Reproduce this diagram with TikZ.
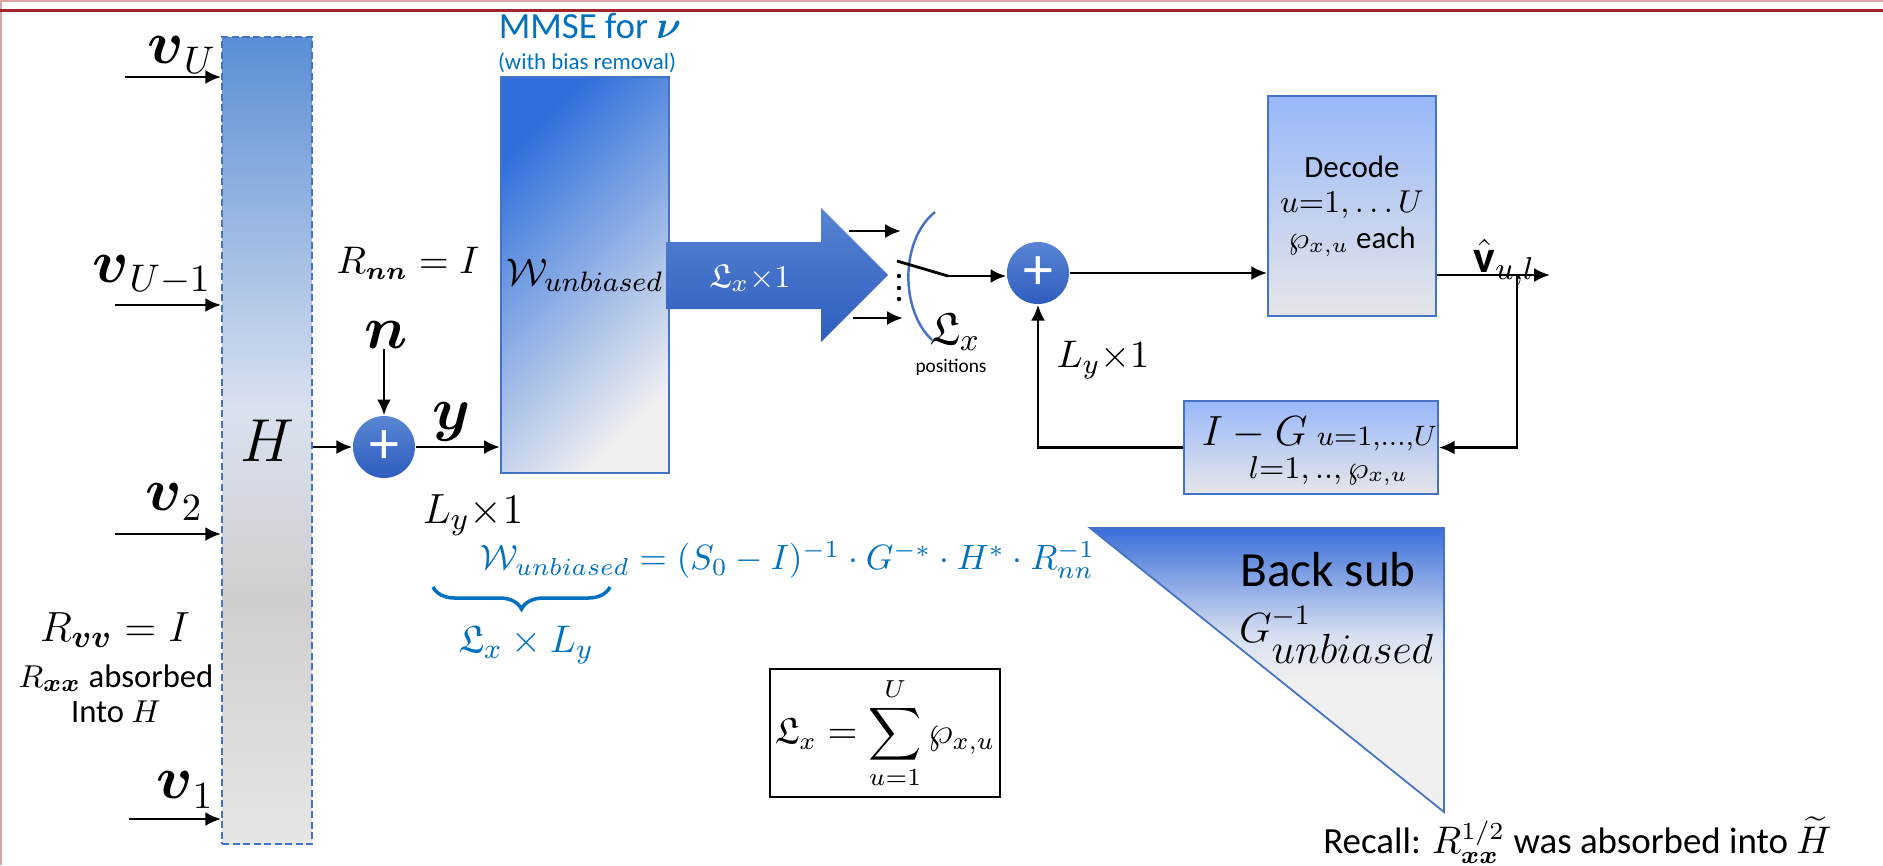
\documentclass[tikz,border=0pt]{standalone}
\usepackage{amsmath, amssymb}
\usepackage{fontspec}
\setmainfont{Carlito}
\usetikzlibrary{arrows.meta, decorations.pathreplacing}
\definecolor{frame-red}{HTML}{A0262B}
\definecolor{frame-pink}{HTML}{DBA4A6}
\definecolor{box-blue}{HTML}{4472C4}
\definecolor{text-blue}{HTML}{0070C0}
\definecolor{hbar-top}{HTML}{5A8ED5}
\definecolor{hbar-light}{HTML}{D9E1EF}
\definecolor{hbar-gray}{HTML}{D0CECE}
\definecolor{hbar-bot}{HTML}{E7E6E6}
\definecolor{dec-top}{HTML}{99B8FA}
\definecolor{dec-mid}{HTML}{D3DBF3}
\definecolor{dec-bot}{HTML}{E6E6E8}
\definecolor{mmse-dark}{HTML}{2F6FDB}
\definecolor{mmse-light}{HTML}{EFEFF0}
\definecolor{arrow-top}{HTML}{5683D1}
\definecolor{arrow-bot}{HTML}{2F5EC0}
\definecolor{add-top}{HTML}{5A85D3}
\definecolor{add-bot}{HTML}{2D5DBE}
\definecolor{tri-blue}{HTML}{3A6ED8}
\definecolor{tri-light}{HTML}{D8E0F2}
\definecolor{tri-gray}{HTML}{F0F0F0}
\pgfdeclareverticalshading{hbar}{100bp}{color(0bp)=(hbar-bot); color(25bp)=(hbar-bot); color(40bp)=(hbar-gray); color(52bp)=(hbar-light); color(75bp)=(hbar-top); color(100bp)=(hbar-top)}
\pgfdeclareverticalshading{backsub}{100bp}{color(0bp)=(tri-gray); color(25bp)=(tri-gray); color(48bp)=(tri-gray); color(56bp)=(tri-light); color(75bp)=(tri-blue); color(100bp)=(tri-blue)}

\begin{document}
\begin{tikzpicture}[x=1cm, y=-1cm,
    arr/.style={-{Latex[length=4.5pt,width=4pt]}, thick},
    blockbox/.style={draw=box-blue, line width=0.5pt, top color=dec-top, middle color=dec-mid, bottom color=dec-bot, inner sep=0pt},
    adder/.style={circle, minimum size=0.62cm, inner sep=0pt, top color=add-top, bottom color=add-bot, text=white, font=\fontsize{17}{17}\selectfont},
    varlabel/.style={font=\fontsize{16}{18}\selectfont, inner sep=0pt}]
    \useasboundingbox (0,0) rectangle (18.83,8.65);
    \draw[frame-pink, line width=0.5pt] (0.01,8.65) -- (0.01,0.01) -- (18.83,0.01);
    \draw[frame-red, line width=0.9pt] (0,0.105) -- (18.83,0.105);

    \node[draw=box-blue, dash pattern=on 2pt off 1pt, line width=0.5pt, shade, shading=hbar,
      minimum width=0.90cm, minimum height=8.07cm, inner sep=0pt, font=\fontsize{16.5}{18}\selectfont]
      (hbar) at (2.67,4.405) {$H$};

    \coordinate (vUin) at (1.25,0.77);
    \coordinate (vUmin) at (1.15,3.05);
    \coordinate (v2in) at (1.15,5.34);
    \coordinate (v1in) at (1.29,8.19);
    \draw[arr] (vUin) -- (vUin -| hbar.west);
    \draw[arr] (vUmin) -- (vUmin -| hbar.west);
    \draw[arr] (v2in) -- (v2in -| hbar.west);
    \draw[arr] (v1in) -- (v1in -| hbar.west);
    \node[varlabel] (vU) at (1.82,0.55) {$\boldsymbol{v}_U$};
    \node[varlabel] (vUm) at (1.52,2.75) {$\boldsymbol{v}_{U-1}$};
    \node[varlabel] (v2) at (1.74,5.02) {$\boldsymbol{v}_2$};
    \node[varlabel] (v1) at (1.85,7.90) {$\boldsymbol{v}_1$};

    \node[font=\fontsize{12.5}{14}\selectfont] (rvv) at (1.15,6.30) {$R_{\boldsymbol{vv}} = I$};
    \node[font=\fontsize{9.3}{10}\selectfont, align=center] (rxx) at (1.16,6.94)
      {$R_{\boldsymbol{xx}}$ absorbed\\Into $H$};

    \node[adder] (add1) at (3.84,4.47) {+};
    \draw[arr] (hbar.east |- add1) -- (add1);
    \node[varlabel] (noise) at (3.86,3.35) {$\boldsymbol{n}$};
    \draw[arr] (noise.south -| add1) -- (add1);
    \node[font=\fontsize{10.5}{12}\selectfont] (rnn) at (4.08,2.63) {$R_{\boldsymbol{nn}} = I$};
    \node[varlabel] (ylab) at (4.52,4.22) {$\boldsymbol{y}$};

    \node[draw=box-blue, line width=0.6pt, top color=mmse-dark, bottom color=mmse-light, shading angle=45,
      minimum width=1.68cm, minimum height=3.96cm, inner sep=0pt, font=\fontsize{11}{13}\selectfont]
      (mmse) at (5.85,2.75) {$\mathcal{W}_{unbiased}$};
    \node[text=text-blue, font=\fontsize{10.5}{12}\selectfont] (mmsetitle) at (5.90,0.26) {MMSE for $\boldsymbol{\nu}$};
    \node[text=text-blue, font=\fontsize{6.5}{8}\selectfont] (mmsesub) at (5.87,0.63) {(with bias removal)};
    \draw[arr] (add1) -- (add1 -| mmse.west);
    \node[font=\fontsize{13}{15}\selectfont] (ly1) at (4.73,5.15) {$L_y{\times}1$};

    \shade[top color=arrow-top, bottom color=arrow-bot] (6.66,2.42) -- (8.21,2.42) -- (8.21,2.08)
      -- (8.88,2.75) -- (8.21,3.42) -- (8.21,3.09) -- (6.66,3.09) -- cycle;
    \node[text=white, font=\fontsize{9.5}{11}\selectfont] (lxarrow) at (7.50,2.78) {$\mathfrak{L}_x{\times}1$};

    \coordinate (topin) at (8.49,2.31);
    \coordinate (topout) at (9.01,2.31);
    \coordinate (botin) at (8.53,3.18);
    \coordinate (botout) at (9.03,3.18);
    \draw[arr] (topin) -- (topout);
    \draw[arr] (botin) -- (botout);
    \foreach \y in {2.76,2.88,2.99}
      \fill (8.99,\y) circle (0.022);
    \draw[box-blue, line width=0.7pt] (9.35,2.12) .. controls (9.0,2.4) and (9.0,3.1) .. (9.32,3.40);
    \coordinate (swa) at (8.97,2.61);
    \coordinate (swb) at (9.48,2.76);
    \draw[thick] (swa) -- (swb);
    \node[font=\fontsize{13}{15}\selectfont] (lxpos) at (9.55,3.32) {$\mathfrak{L}_x$};
    \node[font=\fontsize{5.5}{6}\selectfont] (poslab) at (9.51,3.67) {positions};

    \node[adder] (add2) at (10.38,2.73) {+};
    \draw[arr] (swb) -- (swb -| add2.west);
    \node[blockbox, minimum width=1.68cm, minimum height=2.20cm, align=center, font=\fontsize{8.8}{10.2}\selectfont]
      (decode) at (13.52,2.06) {Decode\\$u{=}1,\ldots U$\\$\wp_{x,u}$ each};
    \draw[arr] (add2) -- (add2 -| decode.west);

    \coordinate (vout) at (15.50,2.75);
    \coordinate (tap) at (15.17,2.75);
    \draw[arr] (decode.east |- vout) -- (vout);
    \node[anchor=base west, font=\fontsize{13}{15}\selectfont, inner sep=0pt] (vhat) at (14.73,2.72) {$\hat{\mathbf{v}}_{u,l}$};

    \node[blockbox, minimum width=2.54cm, minimum height=0.93cm] (igbox) at (13.11,4.475) {};
    \node[anchor=base west, font=\fontsize{12}{14}\selectfont, inner sep=0pt] (igtop) at (12.01,4.45)
      {$I - G\ {\scriptstyle u=1,\ldots,U}$};
    \node[anchor=base east, font=\fontsize{9}{10}\selectfont, inner sep=0pt] (igbot) at (14.09,4.78)
      {$l{=}1,..,\wp_{x,u}$};
    \draw[arr] (tap) |- (igbox.east);
    \draw[arr] (igbox.west) -| (add2.south);
    \node[font=\fontsize{11}{13}\selectfont] (ly2) at (11.03,3.60) {$L_y{\times}1$};

    \node[anchor=west, text=text-blue, font=\fontsize{10.2}{12}\selectfont, inner sep=0pt] (weq) at (4.80,5.60)
      {$\mathcal{W}_{unbiased} = (S_0 - I)^{-1} \cdot G^{-*} \cdot H^{*} \cdot R_{nn}^{-1}$};
    \draw[text-blue, line width=1pt, decorate, decoration={brace, mirror, amplitude=0.22cm}] (4.33,5.87) -- (6.10,5.87);
    \node[text=text-blue, font=\fontsize{11}{13}\selectfont] (wdim) at (5.26,6.45) {$\mathfrak{L}_x \times L_y$};

    \node[draw, line width=0.6pt, minimum width=2.30cm, minimum height=1.28cm, inner sep=0pt, font=\fontsize{10.5}{12}\selectfont]
      (sumbox) at (8.85,7.33) {$\displaystyle \mathfrak{L}_x = \sum_{u=1}^{U} \wp_{x,u}$};

    \shadedraw[shading=backsub, draw=box-blue, line width=0.5pt] (10.90,5.28) -- (14.44,5.28) -- (14.44,8.12) -- cycle;
    \node[font=\fontsize{14}{16}\selectfont] (backsub) at (13.28,5.70) {Back sub};
    \node[font=\fontsize{12}{14}\selectfont] (ginv) at (13.37,6.35) {$G^{-1}_{\textstyle unbiased}$};

    \node[anchor=east, font=\fontsize{10.5}{12}\selectfont] (recall) at (18.44,8.40)
      {Recall: $R_{\boldsymbol{xx}}^{1/2}$ was absorbed into $\widetilde{H}$};
\end{tikzpicture}
\end{document}
